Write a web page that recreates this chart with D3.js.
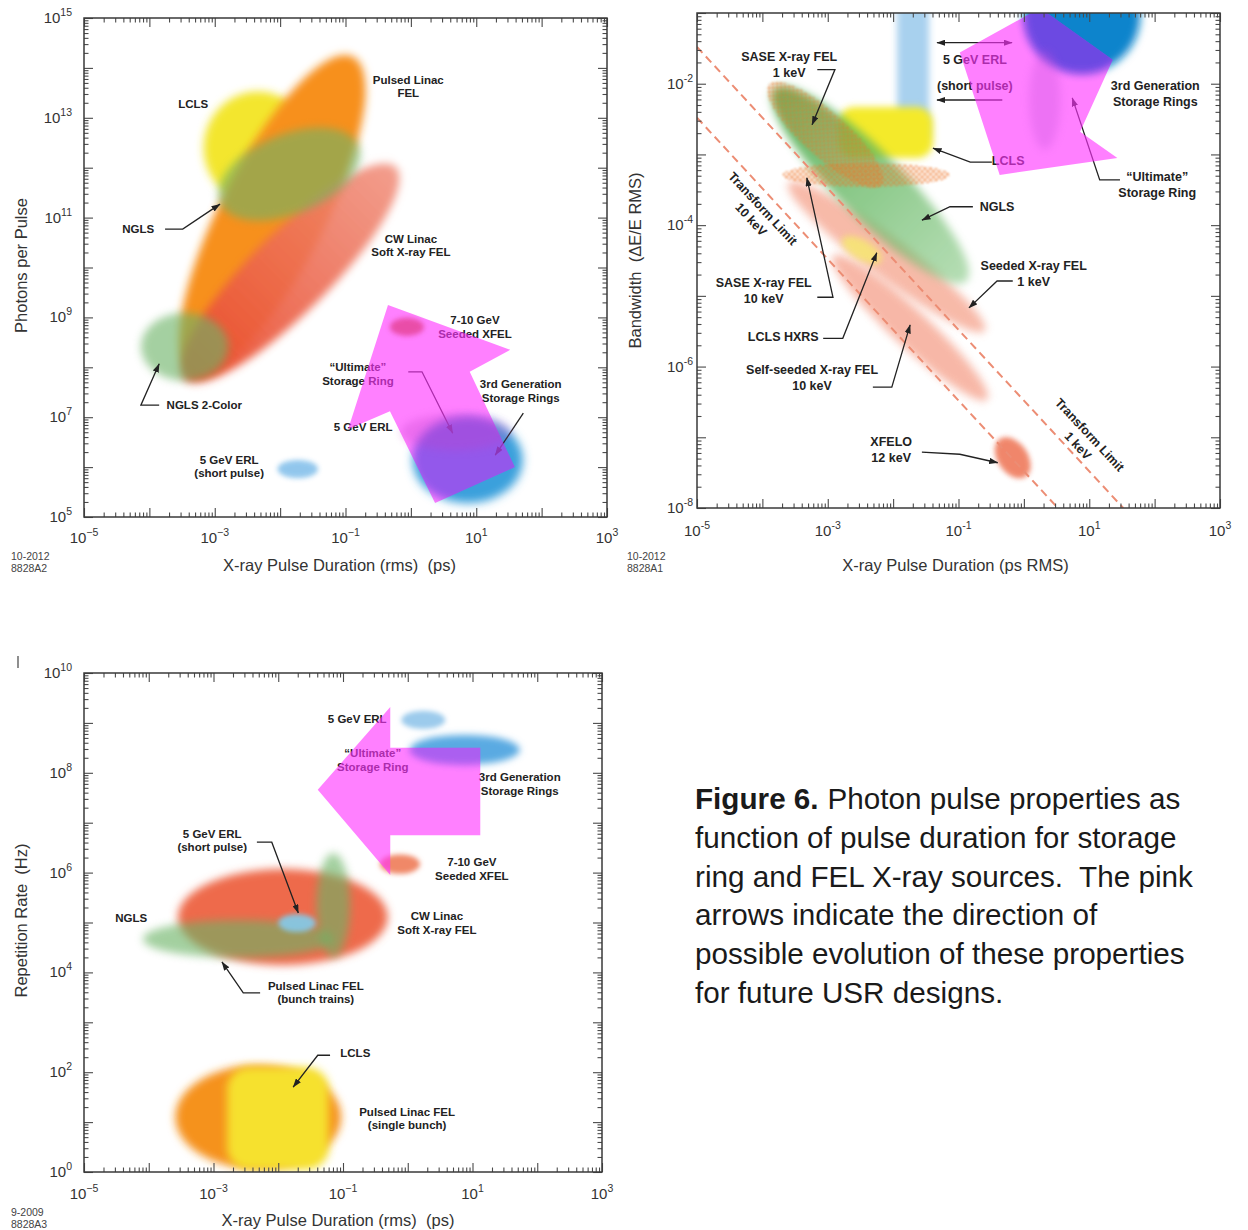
<!DOCTYPE html>
<html><head><meta charset="utf-8">
<script src="https://cdn.jsdelivr.net/npm/d3@7/dist/d3.min.js"></script>
<style>
html,body{margin:0;padding:0;background:#fff;}
svg{display:block;}
text{font-family:"Liberation Sans",Arial,Helvetica,sans-serif;}
</style></head><body>
<svg id="chart" width="1248" height="1230"></svg>
<script>
// ================= DATA (all values as log10 of the axis quantity) =================
const xTickLabelDecades = [-5, -3, -1, 1, 3];
const p1YTickLabelDecades = [5, 7, 9, 11, 13, 15];
const p2YTickLabelDecades = [-8, -6, -4, -2];
const p3YTickLabelDecades = [0, 2, 4, 6, 8, 10];

// ---- Panel 1: photons per pulse vs pulse duration ----
const p1Regions = [
  {name:'LCLS', dur:-2.34, val:12.40, a:0.83, b:0.86, angle:0},
  {name:'Pulsed Linac FEL', dur:-2.12, val:11.05, a:2.72, b:0.80, angle:-63},
  {name:'CW Linac Soft X-ray FEL', dur:-1.85, val:9.89, a:2.29, b:0.61, angle:-45},
  {name:'NGLS', dur:-1.86, val:11.87, a:1.15, b:0.61, angle:-22},
  {name:'NGLS 2-Color', dur:-3.46, val:8.41, a:0.67, b:0.52, angle:0},
  {name:'5 GeV ERL (short pulse)', dur:-1.73, val:5.96, a:0.31, b:0.14, angle:0},
  {name:'3rd Generation Storage Rings', dur:0.87, val:6.14, a:0.84, b:0.66, angle:0}
];
const p1RegionsAbove = [
  {name:'7-10 GeV Seeded XFEL', dur:-0.06, val:8.81, a:0.26, b:0.14, angle:0},
  {name:'Ultimate Storage Ring', dur:0.69, val:6.70, a:0.84, b:0.28, angle:0}
];
const p1Arrow = [[-0.35,9.25],[1.52,8.35],[0.90,7.91],[1.59,6.00],[0.37,5.28],[-0.32,7.12],[-0.96,6.76]];
const p1Pointers = [
  {path:[[-3.76,10.77],[-3.49,10.77],[-2.92,11.27]]},
  {path:[[-3.85,7.24],[-4.13,7.24],[-3.85,8.07]]},
  {path:[[-0.04,7.91],[0.17,7.91],[0.64,6.68]]},
  {path:[[1.72,7.08],[1.29,6.24]]}
];
const p1Labels = [
  {lines:['Pulsed Linac','FEL'], dur:-0.04, val:13.63},
  {lines:['LCLS'], dur:-3.33, val:13.28},
  {lines:['NGLS'], dur:-4.17, val:10.77},
  {lines:['CW Linac','Soft X-ray FEL'], dur:0.00, val:10.44},
  {lines:['7-10 GeV','Seeded XFEL'], dur:0.98, val:8.81},
  {lines:['NGLS 2-Color'], dur:-3.16, val:7.24},
  {lines:['\u201CUltimate\u201D','Storage Ring'], dur:-0.81, val:7.87},
  {lines:['3rd Generation','Storage Rings'], dur:1.68, val:7.53},
  {lines:['5 GeV ERL'], dur:-0.73, val:6.80},
  {lines:['5 GeV ERL','(short pulse)'], dur:-2.78, val:6.01}
];

// ---- Panel 2: bandwidth vs pulse duration ----
const p2Regions = [
  {name:'5 GeV ERL (short pulse)', kind:'rect', x0:-1.94, x1:-1.45, y0:-0.80, y1:-2.80},
  {name:'LCLS', kind:'rect', x0:-2.84, x1:-1.39, y0:-2.33, y1:-3.05},
  {name:'Seeded X-ray FEL 1 keV', dur:-2.10, val:-4.45, a:1.88, b:0.30, angle:37},
  {name:'Self-seeded X-ray FEL 10 keV', dur:-1.74, val:-5.45, a:1.61, b:0.28, angle:43},
  {name:'NGLS', dur:-2.35, val:-3.43, a:2.08, b:0.50, angle:45},
  {name:'LCLS HXRS', dur:-2.48, val:-4.35, a:0.34, b:0.15, angle:30},
  {name:'SASE X-ray FEL 1 keV', dur:-3.04, val:-2.72, a:1.15, b:0.34, angle:42},
  {name:'SASE X-ray FEL 10 keV', dur:-2.41, val:-3.29, a:1.28, b:0.18, angle:0},
  {name:'XFELO 12 keV', dur:-0.17, val:-7.29, a:0.35, b:0.23, angle:55},
  {name:'3rd Generation Storage Rings', dur:0.89, val:-1.03, a:0.89, b:0.89, angle:0}
];
const p2RegionsAbove = [
  {name:'Ultimate Storage Ring', dur:0.32, val:-2.23, a:0.24, b:0.76, angle:0}
];
const p2TransformLimits = [
  {name:'10 keV', from:[-5, -2.48], to:[0.52, -8]},
  {name:'1 keV',  from:[-5, -1.48], to:[1.52, -8]}
];
const p2Arrow = [[-0.98,-1.56],[-0.37,-3.29],[1.43,-3.05],[0.86,-2.68],[1.36,-1.66],[0.25,-0.93]];
const p2Pointers = [
  {path:[[-3.16,-1.80],[-2.89,-1.80],[-3.24,-2.58]]},
  {path:[[-1.33,-1.42],[-0.18,-1.42]], both:true},
  {path:[[-0.33,-2.23],[-1.33,-2.23]]},
  {path:[[-0.49,-3.11],[-0.82,-3.11],[-1.39,-2.91]]},
  {path:[[1.47,-3.36],[1.16,-3.36],[0.74,-2.20]]},
  {path:[[-0.78,-3.74],[-1.13,-3.74],[-1.56,-3.93]]},
  {path:[[-0.17,-4.79],[-0.41,-4.79],[-0.84,-5.17]]},
  {path:[[-3.16,-5.02],[-2.92,-5.02],[-3.32,-3.33]]},
  {path:[[-3.07,-5.60],[-2.77,-5.60],[-2.25,-4.39]]},
  {path:[[-2.31,-6.29],[-2.02,-6.29],[-1.74,-5.41]]},
  {path:[[-1.56,-7.21],[-0.98,-7.24],[-0.40,-7.36]]}
];
const p2Labels = [
  {lines:['SASE X-ray FEL','1 keV'], dur:-3.59, val:-1.73},
  {lines:['5 GeV ERL'], dur:-0.75, val:-1.66},
  {lines:['(short pulse)'], dur:-0.75, val:-2.02},
  {lines:['3rd Generation','Storage Rings'], dur:2.01, val:-2.14},
  {lines:['LCLS'], dur:-0.24, val:-3.09},
  {lines:['\u201CUltimate\u201D','Storage Ring'], dur:2.04, val:-3.42},
  {lines:['NGLS'], dur:-0.41, val:-3.74},
  {lines:['Seeded X-ray FEL','1 keV'], dur:0.15, val:-4.69},
  {lines:['SASE X-ray FEL','10 keV'], dur:-3.98, val:-4.93},
  {lines:['LCLS HXRS'], dur:-3.68, val:-5.57},
  {lines:['Self-seeded X-ray FEL','10 keV'], dur:-3.24, val:-6.15},
  {lines:['XFELO','12 keV'], dur:-2.03, val:-7.17},
  {lines:['Transform Limit','10 keV'], dur:-4.08, val:-3.84, tilted:true},
  {lines:['Transform Limit','1 keV'], dur:0.92, val:-7.04, tilted:true}
];

// ---- Panel 3: repetition rate vs pulse duration ----
const p3Regions = [
  {name:'5 GeV ERL', dur:0.24, val:9.06, a:0.34, b:0.14, angle:0},
  {name:'3rd Generation Storage Rings', dur:0.88, val:8.46, a:0.85, b:0.23, angle:0},
  {name:'CW Linac Soft X-ray FEL', dur:-1.93, val:5.11, a:1.62, b:0.74, angle:0},
  {name:'NGLS', dur:-2.62, val:4.67, a:1.47, b:0.29, angle:0},
  {name:'NGLS vertical', dur:-1.15, val:5.35, a:0.26, b:0.80, angle:0},
  {name:'5 GeV ERL (short pulse)', dur:-1.71, val:4.99, a:0.29, b:0.14, angle:0},
  {name:'7-10 GeV Seeded XFEL', dur:-0.12, val:6.17, a:0.31, b:0.15, angle:0},
  {name:'Pulsed Linac FEL (single bunch)', dur:-2.31, val:1.10, a:1.28, b:0.80, angle:0},
  {name:'LCLS', kind:'rect', x0:-2.79, x1:-1.22, y0:2.10, y1:0.05}
];
const p3Arrow = [[-0.27,9.32],[-1.39,7.66],[-0.27,5.95],[-0.27,6.75],[1.12,6.75],[1.12,8.50],[-0.27,8.50]];
const p3Pointers = [
  {path:[[-2.33,6.61],[-2.10,6.61],[-1.69,5.19]]},
  {path:[[-2.28,3.59],[-2.54,3.59],[-2.87,4.21]]},
  {path:[[-1.20,2.34],[-1.39,2.34],[-1.77,1.70]]}
];
const p3Labels = [
  {lines:['5 GeV ERL'], dur:-0.78, val:9.08},
  {lines:['\u201CUltimate\u201D','Storage Ring'], dur:-0.54, val:8.26},
  {lines:['3rd Generation','Storage Rings'], dur:1.73, val:7.78},
  {lines:['7-10 GeV','Seeded XFEL'], dur:0.99, val:6.07},
  {lines:['5 GeV ERL','(short pulse)'], dur:-3.02, val:6.65},
  {lines:['NGLS'], dur:-4.27, val:5.09},
  {lines:['CW Linac','Soft X-ray FEL'], dur:0.45, val:4.99},
  {lines:['Pulsed Linac FEL','(bunch trains)'], dur:-1.42, val:3.60},
  {lines:['LCLS'], dur:-0.81, val:2.38},
  {lines:['Pulsed Linac FEL','(single bunch)'], dur:-0.01, val:1.07}
];

const captionLines = [
  ['Figure 6.', 'Photon pulse properties as'],
  ['', 'function of pulse duration for storage'],
  ['', 'ring and FEL X-ray sources.  The pink'],
  ['', 'arrows indicate the direction of'],
  ['', 'possible evolution of these properties'],
  ['', 'for future USR designs.']
];

// ================= STYLES =================
const p1Style = {
  'LCLS': {fill:'#f3e62e', op:1, blur:4},
  'Pulsed Linac FEL': {fill:'#f7901f', op:1, blur:4},
  'CW Linac Soft X-ray FEL': {grad:[['#e9482a',0.95],['#f08c78',0.85]], blur:4},
  'NGLS': {fill:'#6db468', op:0.6, blur:4},
  'NGLS 2-Color': {fill:'#6db468', op:0.62, blur:4},
  '5 GeV ERL (short pulse)': {fill:'#8cc4ec', op:0.95, blur:2.5},
  '3rd Generation Storage Rings': {fill:'#3aa0dc', op:1, blur:5, overlay:['#3c50dc',0.28]},
  '7-10 GeV Seeded XFEL': {fill:'#e6449a', op:0.85, blur:2.5},
  'Ultimate Storage Ring': {fill:'#c040c8', op:0.3, blur:4}
};
const p2Style = {
  '5 GeV ERL (short pulse)': {fill:'#a4cfee', op:0.95, blur:3.5, r:6},
  'LCLS': {fill:'#f4ea2a', op:1, blur:3.5, r:16},
  'Seeded X-ray FEL 1 keV': {fill:'#f5a38c', op:0.75, blur:4},
  'Self-seeded X-ray FEL 10 keV': {fill:'#f5a08a', op:0.75, blur:4},
  'NGLS': {grad:[['#58b056',0.95],['#6cbc6a',0.5]], blur:4},
  'LCLS HXRS': {fill:'#f6e872', op:0.85, blur:3},
  'SASE X-ray FEL 1 keV': {fill:'url(#hatch)', op:0.85, blur:1},
  'SASE X-ray FEL 10 keV': {fill:'url(#hatch)', op:0.85, blur:1},
  'XFELO 12 keV': {fill:'#ef7a5c', op:0.9, blur:2.5},
  '3rd Generation Storage Rings': {fill:'#0a84cc', op:1, blur:4, overlay:['#2c40d8',0.45]},
  'Ultimate Storage Ring': {fill:'#c050d8', op:0.28, blur:4}
};
const p3Style = {
  '5 GeV ERL': {fill:'#9ccbec', op:1, blur:2.5},
  '3rd Generation Storage Rings': {fill:'#5aaae2', op:1, blur:3.5, overlay:['#5a60e0',0.2]},
  'CW Linac Soft X-ray FEL': {fill:'#ee6a4c', op:1, blur:4},
  'NGLS': {fill:'#6cb466', op:0.62, blur:4},
  'NGLS vertical': {fill:'#6cb466', op:0.62, blur:4},
  '5 GeV ERL (short pulse)': {fill:'#86c8e4', op:0.95, blur:2.5},
  '7-10 GeV Seeded XFEL': {fill:'#f08868', op:1, blur:2.5},
  'Pulsed Linac FEL (single bunch)': {fill:'#f5921e', op:1, blur:4},
  'LCLS': {fill:'#f6e12e', op:1, blur:4, r:22}
};

// ================= DRAW =================
const svg = d3.select('#chart');
const defs = svg.append('defs');
const blurId = s => 'blur' + String(s).replace('.', '_');
[1, 2.5, 3, 3.5, 4, 5].forEach(s => {
  defs.append('filter').attr('id', blurId(s)).attr('x', '-60%').attr('y', '-60%')
    .attr('width', '220%').attr('height', '220%')
    .append('feGaussianBlur').attr('stdDeviation', s);
});
defs.append('marker').attr('id', 'ah').attr('viewBox', '0 0 10 7').attr('refX', 9.5).attr('refY', 3.5)
  .attr('markerWidth', 9).attr('markerHeight', 6.3).attr('markerUnits', 'userSpaceOnUse')
  .attr('orient', 'auto-start-reverse')
  .append('path').attr('d', 'M0,0L10,3.5L0,7Z').attr('fill', '#222');
const pat = defs.append('pattern').attr('id', 'hatch').attr('patternUnits', 'userSpaceOnUse')
  .attr('width', 4).attr('height', 4).attr('patternTransform', 'rotate(45)');
pat.append('rect').attr('width', 2.5).attr('height', 2.5).attr('fill', '#ee7428');

let gradCount = 0;
function drawPanel(P) {
  const x = d3.scaleLog().domain(P.xDomain).range([P.left, P.right]);
  const y = d3.scaleLog().domain(P.yDomain).range([P.bottom, P.top]);
  const X = l => x(Math.pow(10, l));
  const Y = l => y(Math.pow(10, l));
  const root = svg.append('g');

  defs.append('clipPath').attr('id', P.id + 'plot').append('rect')
    .attr('x', P.left).attr('y', P.top).attr('width', P.right - P.left).attr('height', P.bottom - P.top);
  const arrowPts = P.arrow.map(p => [X(p[0]), Y(p[1])]);
  defs.append('clipPath').attr('id', P.id + 'arr').append('polygon')
    .attr('points', arrowPts.map(p => p.join(',')).join(' '));

  function shape(layer, d) {
    if (d.kind === 'rect') {
      const x0 = X(d.x0), x1 = X(d.x1), y0 = Y(d.y0), y1 = Y(d.y1);
      return layer.append('rect').attr('x', x0).attr('y', y0)
        .attr('width', x1 - x0).attr('height', y1 - y0);
    }
    const cx = X(d.dur), cy = Y(d.val);
    return layer.append('ellipse').attr('cx', cx).attr('cy', cy)
      .attr('rx', X(d.dur + d.a) - cx).attr('ry', X(d.dur + d.b) - cx)
      .attr('transform', `rotate(${d.angle || 0},${cx},${cy})`);
  }
  function paint(el, st) {
    if (st.grad) {
      const gid = 'grad' + (gradCount++);
      const lg = defs.append('linearGradient').attr('id', gid).attr('x1', 0).attr('x2', 1).attr('y1', 0).attr('y2', 0);
      lg.append('stop').attr('offset', '0%').attr('stop-color', st.grad[0][0]).attr('stop-opacity', st.grad[0][1]);
      lg.append('stop').attr('offset', '100%').attr('stop-color', st.grad[1][0]).attr('stop-opacity', st.grad[1][1]);
      el.attr('fill', `url(#${gid})`);
    } else {
      el.attr('fill', st.fill).attr('opacity', st.op);
    }
    if (st.r) el.attr('rx', st.r).attr('ry', st.r);
    el.attr('filter', `url(#${blurId(st.blur)})`);
  }

  const regionsG = root.append('g').attr('clip-path', `url(#${P.id}plot)`);
  P.regions.forEach(d => paint(shape(regionsG, d), P.style[d.name]));

  if (P.limits) {
    const lineG = root.append('g').attr('clip-path', `url(#${P.id}plot)`);
    P.limits.forEach(l => {
      lineG.append('line').attr('x1', X(l.from[0])).attr('y1', Y(l.from[1]))
        .attr('x2', X(l.to[0])).attr('y2', Y(l.to[1]))
        .attr('stroke', '#ec8d74').attr('stroke-width', 2).attr('stroke-dasharray', '8,5');
    });
  }

  // annotations
  const annG = root.append('g');
  const line = d3.line().x(p => X(p[0])).y(p => Y(p[1]));
  P.pointers.forEach(p => {
    const path = annG.append('path').attr('d', line(p.path)).attr('fill', 'none')
      .attr('stroke', '#222').attr('stroke-width', 1.3).attr('marker-end', 'url(#ah)');
    if (p.both) path.attr('marker-start', 'url(#ah)');
  });
  P.labels.forEach(L => {
    const cx = X(L.dur), cy = Y(L.val);
    const n = L.lines.length;
    const g = annG.append('g').attr('transform', `translate(${cx},${cy})` + (L.tilted ? ` rotate(${P.tilt})` : ''));
    L.lines.forEach((t, i) => {
      g.append('text').attr('x', 0).attr('y', (i - (n - 1) / 2) * P.lineH + P.labelSize * 0.36)
        .attr('text-anchor', 'middle').attr('font-weight', 'bold')
        .attr('font-size', P.labelSize).attr('fill', '#222').text(t);
    });
  });

  // pink evolution arrow
  root.append('g').attr('clip-path', `url(#${P.id}plot)`)
    .append('polygon').attr('points', arrowPts.map(p => p.join(',')).join(' '))
    .attr('fill', '#ff32ff').attr('opacity', 0.62);

  // colour of regions seen through the arrow
  const ovG = root.append('g').attr('clip-path', `url(#${P.id}plot)`)
    .append('g').attr('clip-path', `url(#${P.id}arr)`);
  P.regions.forEach(d => {
    const st = P.style[d.name];
    if (st.overlay) paint(shape(ovG, d), {fill: st.overlay[0], op: st.overlay[1], blur: st.blur});
  });
  const aboveG = root.append('g').attr('clip-path', `url(#${P.id}plot)`);
  (P.above || []).forEach(d => paint(shape(aboveG, d), P.style[d.name]));

  // axes (inward ticks on all four sides)
  const axG = root.append('g');
  const decs = (dom) => d3.range(Math.round(Math.log10(dom[0])), Math.round(Math.log10(dom[1])) + 1);
  const xMaj = decs(P.xDomain).map(d => Math.pow(10, d));
  const yMaj = decs(P.yDomain).map(d => Math.pow(10, d));
  const minors = (maj) => { const out = []; maj.slice(0, -1).forEach(v => { for (let k = 2; k <= 9; k++) out.push(k * v); }); return out; };
  const xMin = minors(xMaj), yMin = minors(yMaj);
  const axes = [
    [d3.axisBottom(x), `translate(0,${P.bottom})`, xMaj, xMin],
    [d3.axisTop(x), `translate(0,${P.top})`, xMaj, xMin],
    [d3.axisLeft(y), `translate(${P.left},0)`, yMaj, yMin],
    [d3.axisRight(y), `translate(${P.right},0)`, yMaj, yMin]
  ];
  axes.forEach(([ax, tr, maj, min]) => {
    [[maj, 9], [min, 4.5]].forEach(([vals, len]) => {
      const g = axG.append('g').attr('transform', tr)
        .call(ax.tickValues(vals).tickSize(-len).tickFormat(''));
      g.select('.domain').remove();
      g.selectAll('line').attr('stroke', '#4a4a4a').attr('stroke-width', 1.1);
      g.selectAll('text').remove();
    });
  });
  axG.append('rect').attr('x', P.left).attr('y', P.top).attr('width', P.right - P.left)
    .attr('height', P.bottom - P.top).attr('fill', 'none').attr('stroke', '#3a3a3a').attr('stroke-width', 1.5);

  const expTxt = d => (d < 0 ? P.minus + Math.abs(d) : String(d));
  P.xTickDec.forEach(d => {
    const t = axG.append('text').attr('x', X(d)).attr('y', P.bottom + P.xTickDy)
      .attr('text-anchor', 'middle').attr('font-size', 15).attr('fill', '#333');
    t.append('tspan').text('10');
    t.append('tspan').attr('dy', -7).attr('font-size', 10.5).text(expTxt(d));
  });
  P.yTickDec.forEach(d => {
    const t = axG.append('text').attr('x', P.left - P.yTickDx).attr('y', Y(d) + 5)
      .attr('text-anchor', 'end').attr('font-size', 15).attr('fill', '#333');
    t.append('tspan').text('10');
    t.append('tspan').attr('dy', -7).attr('font-size', 10.5).text(expTxt(d));
  });
  axG.append('text').attr('x', (P.left + P.right) / 2 + P.xTitleDx).attr('y', P.bottom + P.xTitleDy)
    .attr('text-anchor', 'middle').attr('font-size', 16.5).attr('fill', '#333').attr('xml:space', 'preserve').text(P.xTitle);
  axG.append('text').attr('transform', `translate(${P.yTitleX},${(P.top + P.bottom) / 2 + P.yTitleDy}) rotate(-90)`)
    .attr('text-anchor', 'middle').attr('font-size', 16.5).attr('fill', '#333').attr('xml:space', 'preserve').text(P.yTitle);
  P.footer.forEach((t, i) => {
    axG.append('text').attr('x', P.footX).attr('y', P.footY + i * 11.5).attr('font-size', 10.5)
      .attr('fill', '#444').text(t);
  });
}

drawPanel({
  id:'p1', left:84, right:607, top:18, bottom:517,
  xDomain:[1e-5, 1e3], yDomain:[1e5, 1e15],
  regions:p1Regions, above:p1RegionsAbove, style:p1Style, arrow:p1Arrow,
  pointers:p1Pointers, labels:p1Labels, labelSize:11.5, lineH:13.5,
  xTickDec:xTickLabelDecades, yTickDec:p1YTickLabelDecades, minus:'\u2212',
  xTickDy:26, yTickDx:12,
  xTitle:'X-ray Pulse Duration (rms)  (ps)', xTitleDx:-6, xTitleDy:54,
  yTitle:'Photons per Pulse', yTitleX:27, yTitleDy:-2,
  footer:['10-2012', '8828A2'], footX:11, footY:560
});
drawPanel({
  id:'p2', left:697, right:1220, top:13, bottom:508,
  xDomain:[1e-5, 1e3], yDomain:[1e-8, 1e-1],
  regions:p2Regions, above:p2RegionsAbove, style:p2Style, arrow:p2Arrow, limits:p2TransformLimits,
  pointers:p2Pointers, labels:p2Labels, labelSize:12.5, lineH:16, tilt:47,
  xTickDec:xTickLabelDecades, yTickDec:p2YTickLabelDecades, minus:'-',
  xTickDy:28, yTickDx:4,
  xTitle:'X-ray Pulse Duration (ps RMS)', xTitleDx:-3, xTitleDy:63,
  yTitle:'Bandwidth  (\u0394E/E RMS)', yTitleX:641, yTitleDy:0,
  footer:['10-2012', '8828A1'], footX:627, footY:560
});
drawPanel({
  id:'p3', left:84, right:602, top:673, bottom:1172,
  xDomain:[1e-5, 1e3], yDomain:[1, 1e10],
  regions:p3Regions, above:[], style:p3Style, arrow:p3Arrow,
  pointers:p3Pointers, labels:p3Labels, labelSize:11.5, lineH:13.5,
  xTickDec:xTickLabelDecades, yTickDec:p3YTickLabelDecades, minus:'\u2212',
  xTickDy:27, yTickDx:12,
  xTitle:'X-ray Pulse Duration (rms)  (ps)', xTitleDx:-5, xTitleDy:54,
  yTitle:'Repetition Rate  (Hz)', yTitleX:27, yTitleDy:-2,
  footer:['9-2009', '8828A3'], footX:11, footY:1216
});

// small mark at top-left of bottom panel
svg.append('line').attr('x1', 18).attr('x2', 18).attr('y1', 656).attr('y2', 668)
  .attr('stroke', '#444').attr('stroke-width', 1.2);

// caption
const cap = svg.append('g');
let fs = 26;
const capTexts = captionLines.map((ln, i) => {
  const t = cap.append('text').attr('x', 695).attr('y', 809 + i * 38.8)
    .attr('font-family', 'Lato, "Open Sans", sans-serif').attr('font-size', fs).attr('fill', '#1a1a1a');
  if (ln[0]) {
    t.append('tspan').attr('font-weight', 'bold').text(ln[0]);
    t.append('tspan').attr('dx', 9).text(ln[1]);
  } else {
    t.append('tspan').attr('xml:space', 'preserve').text(ln[1]);
  }
  return t;
});
const w = capTexts[4].node().getComputedTextLength();
const nfs = fs * 490 / w;
capTexts.forEach(t => t.attr('font-size', nfs));
</script>
</body></html>
